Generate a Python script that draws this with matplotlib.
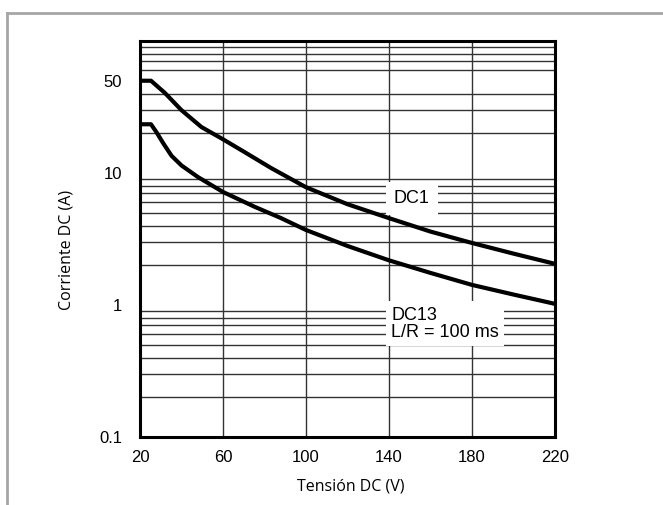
import numpy as np
import matplotlib.pyplot as plt
from matplotlib.lines import Line2D
from matplotlib.ticker import FixedLocator, NullFormatter

# curve DC1
volt_dc1 = [20, 25.3, 32, 40, 49.6, 60, 70.4, 83.2, 100, 120, 140, 160, 180, 200, 220]
amp_dc1 = [50, 50, 40.4, 29.9, 22.3, 18.0, 14.4, 10.9, 7.8, 5.8, 4.55, 3.6, 2.95, 2.45, 2.05]

# curve DC13, L/R = 100 ms
volt_dc13 = [20, 25.3, 28, 31.2, 35.2, 40, 48, 60, 75.2, 88, 100, 120, 140, 160, 180, 200, 220]
amp_dc13 = [23.4, 23.4, 20.3, 16.8, 13.5, 11.4, 9.3, 7.18, 5.55, 4.55, 3.7, 2.8, 2.18, 1.75, 1.42, 1.2, 1.02]

x_ticks = [20, 60, 100, 140, 180, 220]
y_ticks = [0.1, 1, 10, 50]
y_ticklabels = ['0.1', '1', '10', '50']
y_grid = [0.2, 0.3, 0.4, 0.5, 0.6, 0.7, 0.8, 0.9, 1,
          2, 3, 4, 5, 6, 7, 8, 9,
          20, 30, 40, 50, 60, 70, 80, 90]

fig = plt.figure(figsize=(6.63, 5.05), dpi=100)
ax = fig.add_axes([140/663, 1-437/505, 415/663, 396/505])

ax.plot(volt_dc1, amp_dc1, color='black', lw=3, solid_joinstyle='round', zorder=3)
ax.plot(volt_dc13, amp_dc13, color='black', lw=3, solid_joinstyle='round', zorder=3)

ax.set_yscale('log')
ax.set_xlim(20, 220)
ax.set_ylim(0.1, 100)

ax.xaxis.set_major_locator(FixedLocator(x_ticks))
ax.yaxis.set_major_locator(FixedLocator(y_ticks))
ax.set_yticklabels(y_ticklabels)
ax.yaxis.set_minor_locator(FixedLocator(y_grid))
ax.yaxis.set_minor_formatter(NullFormatter())

ax.grid(axis='x', which='major', color='#333333', lw=1.0)
ax.grid(axis='y', which='minor', color='#333333', lw=1.0)
ax.set_axisbelow(True)

ax.tick_params(which='both', length=0)
ax.tick_params(axis='y', pad=13)
ax.tick_params(axis='x', pad=9)
for lab in ax.get_xticklabels() + ax.get_yticklabels():
    lab.set_fontfamily('Liberation Sans')
    lab.set_fontsize(12)

for sp in ax.spines.values():
    sp.set_linewidth(2.2)
    sp.set_zorder(4)

ax.set_xlabel('Tensión DC (V)', fontfamily='Open Sans', fontsize=11.5)
ax.set_ylabel('Corriente DC (A)', fontfamily='Open Sans', fontsize=11.5)
ax.xaxis.set_label_coords(0.508, -0.105)
ax.yaxis.set_label_coords(-0.157, 0.472)

ax.text(151, 6.45, 'DC1', fontfamily='Liberation Sans', fontsize=13,
        ha='center', va='center', zorder=5,
        bbox=dict(boxstyle='square,pad=0.45', fc='white', ec='none'))
ax.text(141, 0.72, 'DC13\nL/R = 100 ms', fontfamily='Liberation Sans', fontsize=13,
        ha='left', va='center', linespacing=1.0, zorder=5,
        bbox=dict(boxstyle='square,pad=0.3', fc='white', ec='none'))

# gray frame
fx = 7/663
fy = 1 - 12.5/505
fig.add_artist(Line2D([fx, 1], [fy, fy], transform=fig.transFigure, color='#a6a6a6', lw=2))
fig.add_artist(Line2D([fx, fx], [0, fy], transform=fig.transFigure, color='#a6a6a6', lw=2))

fig.savefig('out.png', dpi=100)
